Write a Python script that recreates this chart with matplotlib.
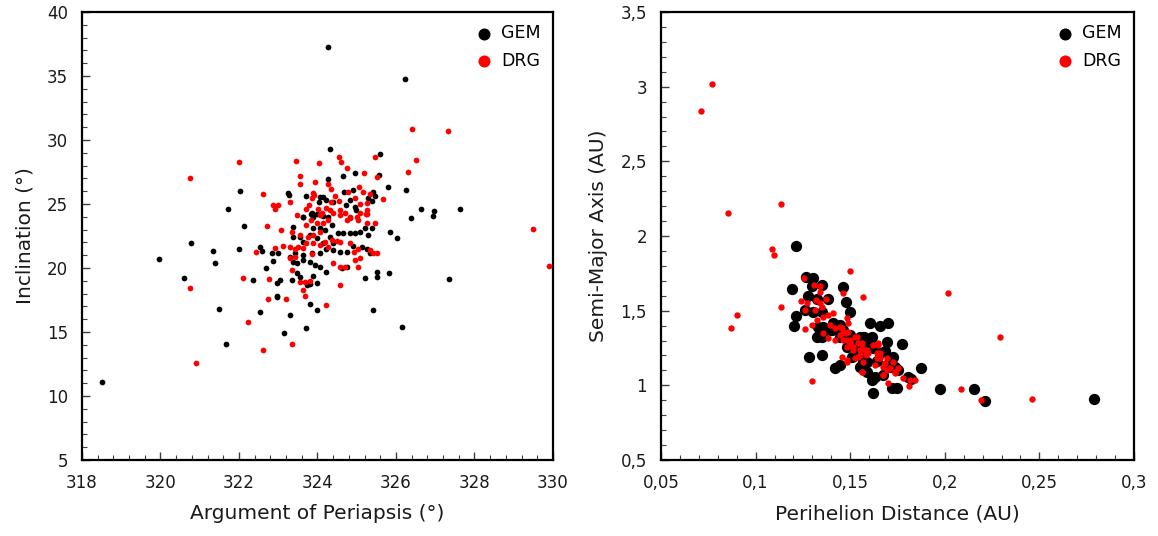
import matplotlib
matplotlib.use("Agg")
import matplotlib.pyplot as plt
from matplotlib.ticker import MultipleLocator, FuncFormatter

# Left panel: argument of periapsis (deg) vs inclination (deg)
gem_peri = [
    323.83, 323.98, 323.64, 324.28, 324.36, 323.89, 324.06, 324.19, 323.37, 323.38,
    323.55, 323.64, 323.81, 323.98, 324.15, 324.32, 324.40, 324.53, 324.66, 324.83,
    324.96, 325.08, 325.21, 325.38, 325.85, 326.03, 324.91, 325.13, 325.25, 325.34,
    324.74, 324.57, 324.40, 324.23, 324.06, 323.85, 323.64, 323.43, 323.30, 323.38,
    323.47, 323.64, 323.81, 323.94, 324.06, 324.23, 324.62, 324.74, 325.51, 325.83,
    325.21, 323.47, 323.55, 323.04, 322.96, 323.34, 323.89, 323.81, 323.98, 322.96,
    323.81, 324.00, 323.30, 325.42, 322.83, 322.87, 323.00,
    324.33, 325.60, 324.96, 324.64, 325.57, 324.26, 325.79, 326.25, 323.24, 323.27,
    324.67, 324.91, 325.42, 323.72, 324.06, 324.15, 324.23, 324.04, 324.40, 324.83,
    325.30, 325.39, 325.46, 324.73, 324.95, 324.97, 323.85, 323.89, 323.64, 324.15,
    324.26, 326.24, 322.03, 321.71, 322.14, 326.63, 326.98, 326.94, 327.64, 326.38,
    327.34, 325.51, 326.16, 323.71, 323.74, 318.52, 321.68, 323.15, 322.53, 321.50,
    322.98, 320.59, 319.96, 320.78, 321.35, 321.39, 322.00, 322.54, 322.59, 322.70,
    322.36, 325.29,
]
gem_incl = [
    24.22, 24.22, 23.96, 23.96, 23.36, 23.10, 23.10, 22.97, 23.23, 22.45,
    22.45, 22.06, 22.58, 22.32, 21.93, 22.45, 21.93, 22.71, 22.71, 22.71,
    22.76, 22.84, 23.10, 23.10, 22.84, 22.32, 21.72, 21.67, 21.46, 21.14,
    21.28, 21.28, 21.41, 21.46, 21.14, 21.14, 21.01, 21.14, 20.88, 20.49,
    20.36, 20.62, 20.49, 20.23, 20.10, 19.71, 19.97, 20.10, 19.71, 19.63,
    19.24, 19.58, 19.32, 19.06, 18.85, 19.06, 19.37, 18.75, 18.80, 17.71,
    17.19, 16.72, 16.33, 16.72, 21.14, 20.57, 21.14,
    29.29, 28.90, 27.39, 27.16, 27.24, 26.98, 26.35, 26.12, 25.83, 25.67,
    25.91, 26.12, 25.91, 25.62, 25.52, 25.52, 25.31, 25.18, 25.18, 25.31,
    25.44, 25.26, 25.62, 24.92, 24.79, 24.53, 24.27, 24.01, 23.95, 24.06,
    37.30, 34.77, 26.00, 24.63, 23.30, 24.63, 24.48, 24.06, 24.63, 23.88,
    19.14, 19.27, 15.41, 15.29, 18.65, 11.09, 14.04, 14.90, 16.56, 16.77,
    17.78, 19.22, 20.70, 21.93, 21.35, 20.37, 21.46, 21.62, 21.35, 20.00,
    19.04, 22.55,
]
drg_peri = [
    323.47, 323.06, 323.71, 323.83, 323.98, 324.06, 324.15, 324.28, 324.57, 324.74,
    324.83, 325.04, 325.25, 325.25, 325.47, 323.34, 323.55, 323.77, 323.89, 324.06,
    323.72, 323.89, 324.06, 324.19, 324.36, 324.49, 323.51, 323.64, 323.30, 323.43,
    323.13, 322.92, 323.85, 324.28, 324.57, 324.83, 324.93, 325.04, 325.34, 325.42,
    325.51, 325.08, 324.96, 325.04, 324.40, 324.57, 324.70, 323.34, 323.68, 323.81,
    323.55, 323.64, 323.68, 324.57, 323.21, 324.22,
    323.45, 324.04, 324.54, 324.61, 325.47, 324.74, 325.18, 323.56, 325.52, 326.31,
    323.56, 323.94, 324.26, 324.35, 323.88, 323.91, 324.79, 325.06, 325.17, 325.34,
    323.30, 323.86, 324.34, 324.45, 324.56, 324.96, 325.08, 325.25, 325.68, 322.87,
    323.00, 322.92, 323.71, 323.79, 324.02, 324.11, 324.22, 324.32, 324.40, 324.57,
    324.70, 324.83, 325.02, 325.08, 325.24, 325.27,
    321.99, 320.74, 322.62, 322.72, 326.42, 327.32, 326.52, 329.48, 329.91, 320.91,
    322.61, 323.36, 322.22, 322.75, 320.76, 322.43, 322.10, 322.76, 323.29, 323.43,
]
drg_incl = [
    24.14, 22.97, 23.36, 23.75, 23.49, 24.14, 23.49, 23.75, 24.14, 23.75,
    23.88, 23.75, 24.22, 23.49, 23.49, 22.84, 22.58, 22.45, 22.58, 22.84,
    21.93, 21.93, 21.80, 22.06, 22.19, 22.13, 21.67, 21.54, 21.67, 21.46,
    21.72, 21.54, 21.09, 21.67, 22.06, 21.93, 21.28, 21.46, 21.41, 21.14,
    21.20, 20.75, 20.62, 20.10, 20.42, 20.10, 20.05, 19.84, 18.93, 19.01,
    18.93, 18.28, 17.81, 18.70, 17.55, 17.08,
    28.38, 28.17, 28.64, 28.25, 28.67, 27.78, 27.39, 27.16, 27.11, 27.50,
    26.53, 26.71, 26.53, 26.19, 25.88, 25.67, 25.91, 26.32, 25.91, 25.78,
    25.15, 25.49, 25.15, 25.62, 25.26, 25.44, 25.00, 25.05, 25.36, 24.94,
    24.89, 24.58, 24.58, 24.92, 24.58, 24.27, 24.66, 24.53, 24.27, 24.53,
    24.27, 23.95, 23.95, 24.27, 24.22, 24.53,
    28.30, 27.05, 25.78, 23.26, 30.86, 30.73, 28.41, 23.07, 20.18, 12.60,
    13.57, 14.09, 15.76, 17.55, 18.46, 21.22, 19.22, 19.14, 20.76, 20.88,
]

# Right panel: perihelion distance (AU) vs semi-major axis (AU)
gem_q = [
    0.1213, 0.1265, 0.1305, 0.1298, 0.1353, 0.1191, 0.1464, 0.1275, 0.1323, 0.1384,
    0.1478, 0.1213, 0.1261, 0.1305, 0.1349, 0.1499, 0.1205, 0.1604, 0.1657, 0.1701,
    0.1573, 0.1613, 0.1446, 0.1464, 0.1446, 0.1693, 0.1772, 0.1552, 0.1552, 0.1587,
    0.1613, 0.1631, 0.1675, 0.1710, 0.1728, 0.1737, 0.1754, 0.1719, 0.1745, 0.1622,
    0.1807, 0.1820, 0.1872, 0.1976, 0.2153, 0.2211, 0.2790, 0.1323, 0.1349, 0.1284,
    0.1349, 0.1420, 0.1446, 0.1358, 0.1393, 0.1429, 0.1411, 0.1481, 0.1525, 0.1605,
    0.1508, 0.1552, 0.1569, 0.1657, 0.1719, 0.1710, 0.1331, 0.1340, 0.1402, 0.1446,
    0.1587, 0.1622, 0.1640, 0.1525, 0.1499, 0.1684, 0.1590,
]
gem_a = [
    1.935, 1.727, 1.721, 1.667, 1.672, 1.647, 1.660, 1.598, 1.576, 1.578,
    1.560, 1.466, 1.504, 1.493, 1.493, 1.489, 1.397, 1.419, 1.397, 1.419,
    1.321, 1.326, 1.404, 1.370, 1.326, 1.292, 1.275, 1.326, 1.125, 1.158,
    1.036, 1.058, 1.069, 1.170, 1.192, 1.125, 1.103, 0.980, 0.985, 0.946,
    1.058, 1.040, 1.114, 0.977, 0.973, 0.893, 0.908, 1.326, 1.326, 1.192,
    1.203, 1.114, 1.136, 1.393, 1.371, 1.393, 1.415, 1.259, 1.303, 1.303,
    1.192, 1.214, 1.158, 1.214, 1.181, 1.125, 1.393, 1.348, 1.370, 1.382,
    1.270, 1.250, 1.160, 1.250, 1.340, 1.230, 1.090,
]
drg_q = [
    0.0771, 0.0713, 0.0852, 0.1133, 0.1085, 0.1097, 0.1499, 0.2015, 0.2294, 0.1300,
    0.0870, 0.0902, 0.1132, 0.2461, 0.2084, 0.2190,
    0.1258, 0.1310, 0.1340, 0.1340, 0.1464, 0.1566, 0.1242, 0.1270, 0.1318, 0.1340,
    0.1370, 0.1261, 0.1314, 0.1349, 0.1323, 0.1358, 0.1384, 0.1411, 0.1481, 0.1490,
    0.1393, 0.1420, 0.1446, 0.1464, 0.1261, 0.1296, 0.1358, 0.1384, 0.1420, 0.1446,
    0.1481, 0.1499, 0.1534, 0.1517, 0.1552, 0.1561, 0.1587, 0.1583, 0.1543, 0.1481,
    0.1455, 0.1649, 0.1657, 0.1640, 0.1693, 0.1728, 0.1754, 0.1675, 0.1693, 0.1675,
    0.1701, 0.1737, 0.1781, 0.1816, 0.1813, 0.1843, 0.1561, 0.1569,
    0.1455, 0.1472, 0.1490, 0.1464, 0.1499, 0.1525, 0.1543, 0.1561, 0.1578, 0.1516,
    0.1481, 0.1552, 0.1596, 0.1622, 0.1649, 0.1640, 0.1525, 0.1481, 0.1561, 0.1657,
    0.1684, 0.1710, 0.1737, 0.1631, 0.1675,
]
drg_a = [
    3.016, 2.835, 2.152, 2.212, 1.915, 1.871, 1.764, 1.620, 1.324, 1.029,
    1.384, 1.471, 1.524, 0.908, 0.973, 0.904,
    1.716, 1.672, 1.667, 1.623, 1.616, 1.589, 1.567, 1.549, 1.571, 1.549,
    1.576, 1.504, 1.504, 1.527, 1.437, 1.460, 1.471, 1.482, 1.448, 1.415,
    1.404, 1.382, 1.388, 1.359, 1.377, 1.404, 1.348, 1.315, 1.303, 1.337,
    1.303, 1.281, 1.326, 1.259, 1.236, 1.281, 1.236, 1.203, 1.192, 1.158,
    1.192, 1.270, 1.214, 1.181, 1.181, 1.158, 1.114, 1.125, 1.103, 1.069,
    1.013, 1.080, 1.047, 1.036, 0.998, 1.036, 1.091, 1.158,
    1.382, 1.348, 1.359, 1.304, 1.304, 1.326, 1.281, 1.248, 1.237, 1.237,
    1.259, 1.203, 1.214, 1.270, 1.281, 1.214, 1.181, 1.170, 1.091, 1.181,
    1.147, 1.114, 1.091, 1.136, 1.069,
]

plt.rcParams['font.family'] = 'DejaVu Sans'
text_col = '#1a1a1a'


def comma(v, pos):
    # decimal comma like the original spreadsheet chart
    return ('%g' % round(v, 3)).replace('.', ',')


def style_axis(ax):
    for s in ax.spines.values():
        s.set_linewidth(1.6)
        s.set_color('black')
    ax.tick_params(which='both', direction='in', top=False, right=False,
                   labelsize=12, colors='#404040', labelcolor=text_col, pad=10)
    ax.tick_params(which='major', length=6, width=1)
    ax.tick_params(which='minor', length=3.5, width=0.8)


fig = plt.figure(figsize=(11.58, 5.36), dpi=100)
ax1 = fig.add_axes([0.0708, 0.1418, 0.4067, 0.8358])
ax2 = fig.add_axes([0.5708, 0.1418, 0.4085, 0.8358])

# Left: argument of periapsis vs inclination
ax1.scatter(gem_peri, gem_incl, s=17, color='black', label='GEM', zorder=2, linewidths=0)
ax1.scatter(drg_peri, drg_incl, s=17, color='#ff0000', label='DRG', zorder=3, linewidths=0)
ax1.set_xlim(318, 330)
ax1.set_ylim(5, 40)
ax1.xaxis.set_major_locator(MultipleLocator(2))
ax1.xaxis.set_minor_locator(MultipleLocator(0.4))
ax1.yaxis.set_major_locator(MultipleLocator(5))
ax1.yaxis.set_minor_locator(MultipleLocator(1))
ax1.set_xlabel("Argument of Periapsis (°)", fontsize=14.5, color=text_col, labelpad=9)
ax1.set_ylabel("Inclination (°)", fontsize=14.5, color=text_col, labelpad=9)
style_axis(ax1)
leg1 = ax1.legend(loc='upper right', frameon=False, fontsize=12.5,
                  handletextpad=0.0, labelspacing=0.55, borderaxespad=0.3)
for h in leg1.legend_handles:
    h.set_sizes([75])

# Right: perihelion distance vs semi-major axis
ax2.scatter(gem_q, gem_a, s=66, color='black', label='GEM', zorder=2, linewidths=0)
ax2.scatter(drg_q, drg_a, s=21, color='#ff0000', label='DRG', zorder=3, linewidths=0)
ax2.set_xlim(0.05, 0.3)
ax2.set_ylim(0.5, 3.5)
ax2.xaxis.set_major_locator(MultipleLocator(0.05))
ax2.xaxis.set_minor_locator(MultipleLocator(0.01))
ax2.yaxis.set_major_locator(MultipleLocator(0.5))
ax2.yaxis.set_minor_locator(MultipleLocator(0.1))
ax2.xaxis.set_major_formatter(FuncFormatter(comma))
ax2.yaxis.set_major_formatter(FuncFormatter(comma))
ax2.set_xlabel("Perihelion Distance (AU)", fontsize=14.5, color=text_col, labelpad=9)
ax2.set_ylabel("Semi-Major Axis (AU)", fontsize=14.5, color=text_col, labelpad=9)
style_axis(ax2)
leg2 = ax2.legend(loc='upper right', frameon=False, fontsize=12.5,
                  handletextpad=0.0, labelspacing=0.55, borderaxespad=0.3)
for h in leg2.legend_handles:
    h.set_sizes([75])

fig.savefig('out.png', dpi=100)
